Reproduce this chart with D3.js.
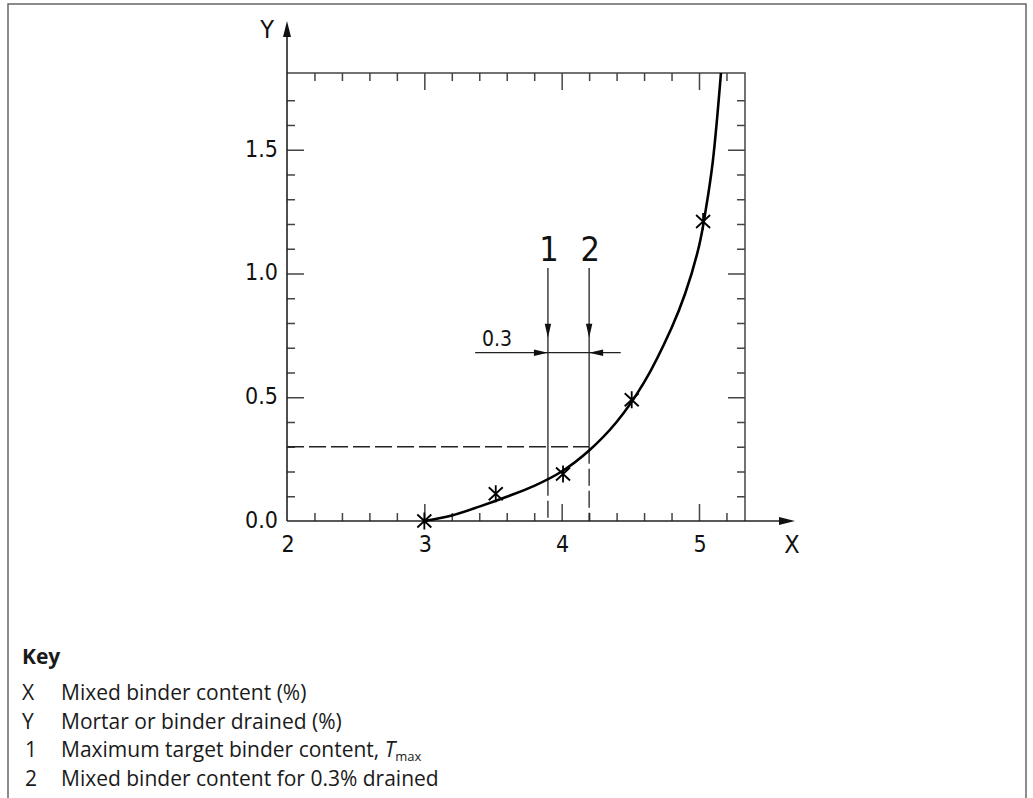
<!DOCTYPE html>
<html>
<head>
<meta charset="utf-8">
<script src="https://cdn.jsdelivr.net/npm/d3@7"></script>
<style>
  html, body { margin: 0; padding: 0; background: #fff; }
  svg { display: block; }
  .tech { font-family: "Liberation Sans Narrow", "DejaVu Sans Condensed", "DejaVu Sans", sans-serif; font-stretch: condensed; fill: #111; }
  .key { font-family: "Open Sans", "Noto Sans", sans-serif; fill: #1a1a1a; }
</style>
</head>
<body>
<svg id="chart" width="1033" height="798"></svg>
<script>
// measured points (asterisks)
const pointX = [3.0, 3.52, 4.01, 4.51, 5.03];
const pointY = [0.0, 0.11, 0.19, 0.49, 1.21];

// fitted curve
const curveX = [3.0, 3.2, 3.4, 3.6, 3.8, 4.0, 4.2, 4.4, 4.6, 4.8, 4.9, 5.0, 5.05, 5.1, 5.16];
const curveY = [0.0, 0.022, 0.058, 0.098, 0.142, 0.2, 0.285, 0.40, 0.56, 0.78, 0.92, 1.11, 1.26, 1.45, 1.81];

// tick labels
const xLabels = [2, 3, 4, 5];
const yLabels = [0.0, 0.5, 1.0, 1.5];

// annotation values
const tmaxX = 3.9;
const drainedX = 4.2;
const drainedLevel = 0.3;
const dimLabel = "0.3";

const keyRows = [
  { sym: "X", text: "Mixed binder content (%)" },
  { sym: "Y", text: "Mortar or binder drained (%)" },
  { sym: "1", text: "Maximum target binder content, ", tmax: true },
  { sym: "2", text: "Mixed binder content for 0.3% drained" },
];

(function () {
  const svg = d3.select("#chart");
  const axisColor = "#444";

  // outer frame
  svg.append("path")
    .attr("d", "M8,800 V4 H1026 V800")
    .attr("fill", "none")
    .attr("stroke", "#666")
    .attr("stroke-width", 1.5);

  const x = d3.scaleLinear().domain([2, 5.335]).range([287, 745]);
  const y = d3.scaleLinear().domain([0, 1.81]).range([521, 73]);

  const xMinor = d3.range(2.2, 5.3, 0.2).map((d) => +d.toFixed(1)).filter((d) => !Number.isInteger(d));
  const xMajor = [3, 4, 5];
  const yMinor = d3.range(0.1, 1.8, 0.1).map((d) => +d.toFixed(1)).filter((d) => Math.abs(d * 2 - Math.round(d * 2)) > 1e-6);
  const yMajor = [0.5, 1.0, 1.5];

  function styleAxis(g) {
    g.select(".domain").remove();
    g.selectAll("line").attr("stroke", axisColor).attr("stroke-width", 1.5);
  }

  // inward ticks on all four sides
  const yBottom = y(0), yTop = y(1.81), xLeft = x(2), xRight = x(5.335);
  svg.append("g").attr("transform", `translate(0,${yBottom})`)
    .call(d3.axisBottom(x).tickValues(xMinor).tickSize(-8).tickFormat("")).call(styleAxis);
  svg.append("g").attr("transform", `translate(0,${yBottom})`)
    .call(d3.axisBottom(x).tickValues(xMajor).tickSize(-17).tickFormat("")).call(styleAxis);
  svg.append("g").attr("transform", `translate(0,${yTop})`)
    .call(d3.axisTop(x).tickValues(xMinor).tickSize(-8).tickFormat("")).call(styleAxis);
  svg.append("g").attr("transform", `translate(0,${yTop})`)
    .call(d3.axisTop(x).tickValues(xMajor).tickSize(-17).tickFormat("")).call(styleAxis);
  svg.append("g").attr("transform", `translate(${xLeft},0)`)
    .call(d3.axisLeft(y).tickValues(yMinor).tickSize(-8).tickFormat("")).call(styleAxis);
  svg.append("g").attr("transform", `translate(${xLeft},0)`)
    .call(d3.axisLeft(y).tickValues(yMajor).tickSize(-17).tickFormat("")).call(styleAxis);
  svg.append("g").attr("transform", `translate(${xRight},0)`)
    .call(d3.axisRight(y).tickValues(yMinor).tickSize(-8).tickFormat("")).call(styleAxis);
  svg.append("g").attr("transform", `translate(${xRight},0)`)
    .call(d3.axisRight(y).tickValues(yMajor).tickSize(-17).tickFormat("")).call(styleAxis);

  // box top & right
  svg.append("path")
    .attr("d", `M${xLeft},${yTop} H${xRight} V${yBottom}`)
    .attr("fill", "none").attr("stroke", axisColor).attr("stroke-width", 1.5);

  // main axes with arrows
  function arrowHead(tx, ty, dir, len = 13, half = 4) {
    const p = {
      right: [[tx, ty], [tx - len, ty - half], [tx - len, ty + half]],
      left: [[tx, ty], [tx + len, ty - half], [tx + len, ty + half]],
      up: [[tx, ty], [tx - half, ty + len], [tx + half, ty + len]],
      down: [[tx, ty], [tx - half, ty - len], [tx + half, ty - len]],
    }[dir];
    return "M" + p.map((q) => q.join(",")).join("L") + "Z";
  }

  const xArrowTip = 795, yArrowTip = 21;
  svg.append("line").attr("x1", xLeft).attr("x2", xArrowTip - 4).attr("y1", yBottom).attr("y2", yBottom)
    .attr("stroke", "#222").attr("stroke-width", 1.6);
  svg.append("path").attr("d", arrowHead(xArrowTip, yBottom, "right", 16, 4)).attr("fill", "#111");
  svg.append("line").attr("x1", xLeft).attr("x2", xLeft).attr("y1", yBottom).attr("y2", yArrowTip + 4)
    .attr("stroke", "#222").attr("stroke-width", 1.6);
  svg.append("path").attr("d", arrowHead(xLeft, yArrowTip, "up", 16, 4)).attr("fill", "#111");

  // tick labels
  svg.append("g").selectAll("text").data(xLabels).join("text")
    .attr("class", "tech")
    .attr("x", (d) => x(d) + 1)
    .attr("y", 552)
    .attr("text-anchor", "middle")
    .attr("font-size", 23)
    .text((d) => d);
  svg.append("g").selectAll("text").data(yLabels).join("text")
    .attr("class", "tech")
    .attr("x", 278)
    .attr("y", (d) => y(d) + 7)
    .attr("text-anchor", "end")
    .attr("font-size", 23)
    .text((d) => d.toFixed(1));

  svg.append("text").attr("class", "tech").attr("x", 792).attr("y", 553)
    .attr("text-anchor", "middle").attr("font-size", 25).text("X");
  svg.append("text").attr("class", "tech").attr("x", 267).attr("y", 38)
    .attr("text-anchor", "middle").attr("font-size", 25).text("Y");

  // dashed 0.3 level
  const curveAt = d3.scaleLinear().domain(curveX).range(curveY);
  const dash = "17,5";
  svg.append("line")
    .attr("x1", xLeft).attr("x2", x(drainedX))
    .attr("y1", y(drainedLevel)).attr("y2", y(drainedLevel))
    .attr("stroke", "#222").attr("stroke-width", 1.3).attr("stroke-dasharray", dash);

  // vertical annotation lines
  const lineTop = 1.022;
  [
    { xv: tmaxX, solidTo: curveAt(tmaxX), label: "1" },
    { xv: drainedX, solidTo: drainedLevel, label: "2" },
  ].forEach((a) => {
    svg.append("line")
      .attr("x1", x(a.xv)).attr("x2", x(a.xv))
      .attr("y1", y(lineTop)).attr("y2", y(a.solidTo))
      .attr("stroke", "#222").attr("stroke-width", 1.3);
    svg.append("line")
      .attr("x1", x(a.xv)).attr("x2", x(a.xv))
      .attr("y1", y(a.solidTo)).attr("y2", y(0))
      .attr("stroke", "#222").attr("stroke-width", 1.3).attr("stroke-dasharray", dash);
    svg.append("path").attr("d", arrowHead(x(a.xv), y(0.74), "down", 14, 3.2)).attr("fill", "#111");
    svg.append("text").attr("class", "tech")
      .attr("x", x(a.xv) + 1).attr("y", y(1.05))
      .attr("text-anchor", "middle").attr("font-size", 34).text(a.label);
  });

  // 0.3 dimension line
  const dimY = y(0.68);
  svg.append("line").attr("x1", x(3.37)).attr("x2", x(4.43)).attr("y1", dimY).attr("y2", dimY)
    .attr("stroke", "#222").attr("stroke-width", 1.3);
  svg.append("path").attr("d", arrowHead(x(tmaxX), dimY, "right", 14, 3.2)).attr("fill", "#111");
  svg.append("path").attr("d", arrowHead(x(drainedX), dimY, "left", 14, 3.2)).attr("fill", "#111");
  svg.append("text").attr("class", "tech")
    .attr("x", x(3.53)).attr("y", y(0.708))
    .attr("text-anchor", "middle").attr("font-size", 21).text(dimLabel);

  // curve
  const curveData = curveX.map((d, i) => ({ x: d, y: curveY[i] }));
  svg.append("path")
    .datum(curveData)
    .attr("fill", "none")
    .attr("stroke", "#000")
    .attr("stroke-width", 2.6)
    .attr("d", d3.line().x((d) => x(d.x)).y((d) => y(d.y)).curve(d3.curveCatmullRom.alpha(0.5)));

  // asterisks
  const star = "M0,-8.5V8.5M-7,-6.5L7,6.5M-7,6.5L7,-6.5";
  svg.append("g").selectAll("path").data(pointX.map((d, i) => ({ x: d, y: pointY[i] }))).join("path")
    .attr("transform", (d) => `translate(${x(d.x)},${y(d.y)})`)
    .attr("d", star)
    .attr("fill", "none")
    .attr("stroke", "#000")
    .attr("stroke-width", 1.8);

  // key
  const key = svg.append("g");
  key.append("text").attr("class", "key").attr("x", 22).attr("y", 664)
    .attr("font-size", 21).attr("font-weight", 700).text("Key");
  keyRows.forEach((r, i) => {
    const by = 700 + i * 28.7;
    key.append("text").attr("class", "key").attr("x", r.sym === "1" || r.sym === "2" ? 25 : 22).attr("y", by)
      .attr("font-size", 21).text(r.sym);
    const t = key.append("text").attr("class", "key").attr("x", 61).attr("y", by).attr("font-size", 21);
    t.append("tspan").text(r.text);
    if (r.tmax) {
      t.append("tspan").attr("font-style", "italic").text("T");
      t.append("tspan").attr("font-size", 13).attr("dy", 4).text("max");
    }
  });
})();
</script>
</body>
</html>
